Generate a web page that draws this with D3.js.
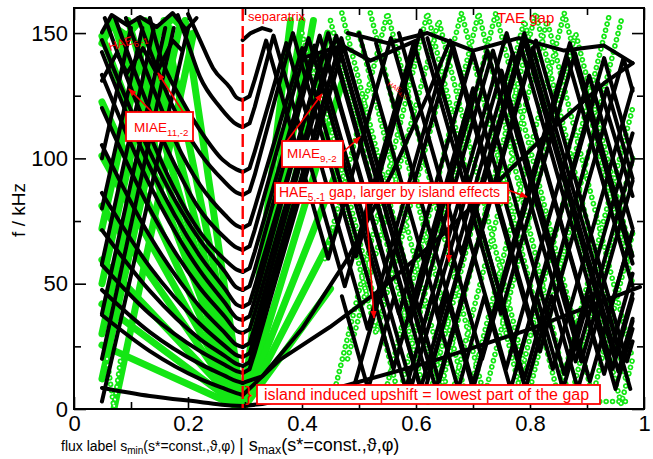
<!DOCTYPE html>
<html><head><meta charset="utf-8">
<script src="https://cdn.jsdelivr.net/npm/d3@7"></script>
<style>
html,body{margin:0;padding:0;background:#fff;}
svg{display:block;font-family:"Liberation Sans",Arial,Helvetica,sans-serif;}
</style></head><body>
<svg id="chart" width="653" height="459"></svg>
<script>
// ---------- axis ticks ----------
const xTicks = [0, 0.2, 0.4, 0.6, 0.8, 1];
const xTickLabels = ["0", "0.2", "0.4", "0.6", "0.8", "1"];
const xMinorTicks = [0.1, 0.3, 0.5, 0.7, 0.9];
const yTicks = [0, 50, 100, 150];
const yTickLabels = ["0", "50", "100", "150"];
const yMinorTicks = [25, 75, 125];
const separatrixS = 0.296;

// ---------- black continuum branches (s, f[kHz]) ----------
// inner side (s_min) branches running down into the separatrix
const vLeftBranches = [
  [[0.2,157.6],[0.221,147.2],[0.244,136],[0.274,128.1],[0.285,124.3],[0.296,123.3]],
  [[0.182,157.2],[0.198,147.2],[0.221,132.5],[0.256,120.5],[0.285,113.6],[0.296,112.5]],
  [[0.133,156],[0.151,141.2],[0.186,124.5],[0.221,111.3],[0.261,99.4],[0.285,95.6],[0.296,94.6]],
  [[0.112,156],[0.133,143.2],[0.168,123.3],[0.221,102.1],[0.261,91.4],[0.285,86.4],[0.296,85.4]],
  [[0.091,156],[0.133,131.3],[0.177,107.3],[0.221,89.4],[0.265,77.4],[0.285,73.2],[0.296,72.2]],
  [[0.072,156],[0.133,119.3],[0.177,97.4],[0.221,79.4],[0.265,68.2],[0.285,64.4],[0.296,63.4]],
  [[0.054,156],[0.133,109.3],[0.177,87.4],[0.221,70.6],[0.265,59.5],[0.285,55.7],[0.296,54.7]],
  [[0.049,147.2],[0.133,102.5],[0.221,67.4],[0.265,54.7],[0.285,48.5],[0.296,47.5]],
  [[0.049,142.4],[0.133,96.6],[0.221,61],[0.265,47.9],[0.285,41.7],[0.296,40.7]],
  [[0.049,133.3],[0.133,89.4],[0.221,55.1],[0.265,42.3],[0.285,36.4],[0.296,35.5]],
  [[0.049,120.1],[0.133,79.8],[0.221,48.3],[0.265,36.7],[0.285,31.2],[0.296,30.3]],
  [[0.049,105.3],[0.133,69],[0.221,40.7],[0.265,30.3],[0.285,25.6],[0.296,24.7]],
  [[0.049,86.2],[0.133,56.7],[0.221,33.9],[0.265,25.1],[0.285,21.5],[0.296,20.7]],
  [[0.049,71.4],[0.133,47.1],[0.221,27.9],[0.265,21.1],[0.285,18],[0.296,17.2]],
  [[0.049,57.5],[0.133,37.9],[0.221,23.1],[0.265,17.6],[0.285,15.1],[0.296,14.4]],
  [[0.049,47.5],[0.133,30.7],[0.221,18],[0.265,13.2],[0.285,11.1],[0.296,10.4]],
  [[0.049,37.5],[0.133,23.1],[0.221,12],[0.265,8],[0.285,6.3],[0.296,5.6]],
  [[0.049,8.4],[0.133,5.2],[0.221,2.8],[0.265,1.6],[0.285,1.3],[0.296,1.2]]
];
// outer side (s_max) branches leaving the separatrix
const vRightBranches = [
  [[0.296,123.3],[0.308,124.8],[0.317,131.3],[0.337,147],[0.446,60],[0.556,148],[0.716,20],[0.866,140],[0.966,60],[0.98,49]],
  [[0.296,112.5],[0.308,114],[0.317,120.5],[0.350,149],[0.475,49],[0.596,146],[0.758,16],[0.904,133],[0.98,72]],
  [[0.296,94.6],[0.308,96.1],[0.317,102.6],[0.3725,146],[0.515,32],[0.640,132],[0.790,12],[0.935,128],[0.98,92]],
  [[0.296,85.4],[0.308,86.9],[0.317,93.4],[0.384,150],[0.495,61],[0.608,151],[0.749,38],[0.879,142],[0.98,61]],
  [[0.296,72.2],[0.308,73.7],[0.317,80.2],[0.4005,144],[0.5605,16],[0.70,128],[0.84,16],[0.98,128]],
  [[0.296,63.4],[0.308,64.9],[0.317,71.4],[0.4115,148],[0.54,45],[0.665,145],[0.8175,23],[0.964,140],[0.98,127]],
  [[0.296,54.7],[0.308,56.2],[0.317,62.7],[0.422,145],[0.592,9],[0.75,135],[0.905,11],[0.98,71]],
  [[0.296,47.5],[0.308,49],[0.317,55.5],[0.431,149],[0.57,38],[0.70,142],[0.86,14],[0.98,110]],
  [[0.296,40.7],[0.308,42.2],[0.317,48.7],[0.44,143],[0.6125,5],[0.79,147],[0.955,15],[0.98,35]],
  [[0.296,35.5],[0.308,37],[0.317,43.5],[0.446,150],[0.59,35],[0.725,143],[0.88,19],[0.98,99]],
  [[0.296,30.3],[0.308,31.8],[0.317,38.3],[0.453,146],[0.62,12],[0.785,144],[0.945,16],[0.98,44]],
  [[0.296,24.7],[0.308,26.2],[0.317,32.7],[0.46,149],[0.609,30],[0.759,150],[0.919,22],[0.98,71]],
  [[0.296,20.7],[0.308,22.2],[0.317,28.7],[0.465,144],[0.635,8],[0.805,144],[0.96,20],[0.98,36]],
  [[0.296,17.2],[0.308,18.7],[0.317,25.2],[0.469,148],[0.605,39],[0.735,143],[0.89,19],[0.98,91]],
  [[0.296,14.4],[0.308,15.9],[0.317,22.4],[0.473,145],[0.6405,11],[0.8105,147],[0.97,19],[0.98,27]],
  [[0.296,10.4],[0.33,13],[0.40,32],[0.48,60],[0.56,95],[0.62,125],[0.66,147],[0.80,35],[0.92,130],[0.98,85]],
  [[0.296,5.6],[0.361,19.6],[0.449,32.7],[0.537,47.5],[0.642,68.6],[0.74,90],[0.84,112],[0.93,130],[0.98,138]],
  [[0.296,1.2],[0.33,2],[0.449,7.6],[0.625,18.8],[0.795,31.5],[0.993,48.7]]
];
// further outer branches crossing the TAE gap region
const outerBranches = [
  [[0.50,150],[0.64,38],[0.77,142],[0.93,14],[0.98,54]],
  [[0.53,146],[0.70,10],[0.87,146],[0.98,58]],
  [[0.57,150],[0.68,62],[0.79,150],[0.95,22],[0.98,46]],
  [[0.62,148],[0.78,20],[0.93,140],[0.98,100]]
];
// steep rising branches on the inner side
const risingLeft = [
  [[0.049,3],[0.2,152]],
  [[0.049,20],[0.175,152]],
  [[0.049,38],[0.16,152]],
  [[0.049,58],[0.14,152]],
  [[0.049,80],[0.12,152]],
  [[0.049,100],[0.10,152]]
];
// upper (TAE/HAE gap edge) branches
const topWaves = [
  [[0.049,150.2],[0.066,157.2],[0.093,153.2],[0.116,156.4],[0.145,152.4],[0.173,158],[0.197,151.2],[0.215,156]],
  [[0.049,131],[0.075,142],[0.093,134],[0.121,144],[0.145,134],[0.173,147],[0.19,143]],
  [[0.296,147.2],[0.31,150],[0.33,152],[0.345,151]],
  [[0.48,150],[0.55,146],[0.62,150],[0.7,143],[0.78,148],[0.86,143],[0.93,145],[0.98,138]],
  [[0.40,140],[0.47,145],[0.52,139],[0.6,147]]
];
// low-frequency branches near the bottom of the outer side
const lowZigzags = [
  [[0.47,45],[0.516,8],[0.562,45],[0.608,8],[0.654,45],[0.70,8],[0.746,45],[0.792,8],[0.838,45],[0.884,8],[0.93,45],[0.976,8]],
  [[0.49,8],[0.536,45],[0.582,8],[0.628,45],[0.674,8],[0.72,45],[0.766,8],[0.812,45],[0.858,8],[0.904,45],[0.95,8],[0.98,32]]
];

// ---------- green continuum (without island upshift) ----------
const greenFanLeft = [
  [[0.296,0],[0.049,25.5]],[[0.296,0],[0.049,41.9]],[[0.296,0],[0.049,59.5]],
  [[0.296,0],[0.049,81]],[[0.296,0],[0.049,101]],[[0.296,0],[0.049,122.5]],
  [[0.296,0],[0.049,148.8]],[[0.296,0],[0.068,155]],[[0.296,0],[0.095,155]],
  [[0.296,0],[0.125,155]],[[0.296,0],[0.158,155]],[[0.296,0],[0.195,155]]
];
const greenRisingLeft = [
  [[0.07,0],[0.21,150]],[[0.049,12],[0.185,152]],[[0.049,30],[0.168,152]],
  [[0.049,50],[0.15,152]],[[0.049,72],[0.128,152]]
];
const greenTopLeft = [
  [[0.049,146],[0.066,153],[0.093,149],[0.116,155],[0.145,149],[0.173,156],[0.2,150]]
];
const greenFanRight = [
  [[0.296,0],[0.38,155]],[[0.296,0],[0.40,155]],[[0.296,0],[0.42,155]],
  [[0.296,0],[0.445,150]],[[0.296,0],[0.47,130]],[[0.296,0],[0.47,100]],
  [[0.296,0],[0.46,72]],[[0.296,0],[0.45,48]]
];
const greenDotted = [
  [[0.058,20],[0.07,0.5],[0.082,20]],
  [[0.45,155],[0.62,2],[0.79,155],[0.96,2],[0.98,20]],
  [[0.47,158],[0.64,5],[0.81,158],[0.97,10]],
  [[0.50,150],[0.66,3],[0.83,155],[0.98,20]],
  [[0.42,140],[0.57,5],[0.74,158],[0.91,5],[0.98,70]],
  [[0.44,60],[0.55,158],[0.72,5],[0.88,150],[0.98,60]],
  [[0.46,10],[0.62,158],[0.78,10],[0.94,158]],
  [[0.40,150],[0.53,30],[0.68,158],[0.85,5],[0.98,120]],
  [[0.48,20],[0.64,155],[0.80,8],[0.96,155]],
  [[0.52,158],[0.69,3],[0.86,158],[0.98,50]],
  [[0.55,10],[0.71,158],[0.87,3],[0.98,100]],
  [[0.45,3],[0.97,3]]
];

// ---------- drawing ----------
const GREEN = "#14e614", RED = "#ff0000";
const svg = d3.select("#chart");
const x = d3.scaleLinear().domain([0, 1]).range([74, 644]);
const y = d3.scaleLinear().domain([0, 160]).range([409, 8]);
const straight = d3.line().x(d => x(d[0])).y(d => y(d[1]));
const smooth = d3.line().x(d => x(d[0])).y(d => y(d[1])).curve(d3.curveMonotoneX);

const defs = svg.append("defs");
defs.append("clipPath").attr("id", "plot-clip").append("rect")
  .attr("x", x(0)).attr("y", y(160)).attr("width", x(1) - x(0)).attr("height", y(0) - y(160));
defs.append("marker").attr("id", "arrow").attr("viewBox", "0 0 10 10")
  .attr("refX", 9).attr("refY", 5).attr("markerWidth", 8).attr("markerHeight", 8)
  .attr("markerUnits", "userSpaceOnUse").attr("orient", "auto")
  .append("path").attr("d", "M0,1 L10,5 L0,9 z").attr("fill", RED);

const plot = svg.append("g").attr("clip-path", "url(#plot-clip)");

function solidGreen(data) {
  plot.append("g").selectAll("path").data(data).join("path")
    .attr("d", straight).attr("fill", "none").attr("stroke", GREEN)
    .attr("stroke-width", 7).attr("stroke-linecap", "round");
}
solidGreen(greenFanLeft);
solidGreen(greenRisingLeft);
solidGreen(greenTopLeft);
solidGreen(greenFanRight);

// open circle markers along the green branches
const rings = plot.append("g");
rings.selectAll("path.o").data(greenDotted).join("path").attr("class", "o")
  .attr("d", straight).attr("fill", "none").attr("stroke", GREEN)
  .attr("stroke-width", 5.6).attr("stroke-linecap", "round").attr("stroke-dasharray", "0.01 6.4");
rings.selectAll("path.i").data(greenDotted).join("path").attr("class", "i")
  .attr("d", straight).attr("fill", "none").attr("stroke", "#fff")
  .attr("stroke-width", 2.2).attr("stroke-linecap", "round").attr("stroke-dasharray", "0.01 6.4");

function black(data, gen) {
  plot.append("g").selectAll("path").data(data).join("path")
    .attr("d", gen).attr("fill", "none").attr("stroke", "#000")
    .attr("stroke-width", 4).attr("stroke-linejoin", "round").attr("stroke-linecap", "round");
}
black(vLeftBranches, smooth);
black(vRightBranches, straight);
black(outerBranches, straight);
black(risingLeft, straight);
black(topWaves, straight);
black(lowZigzags, straight);

// separatrix
svg.append("line").attr("x1", x(separatrixS)).attr("x2", x(separatrixS))
  .attr("y1", y(160)).attr("y2", y(0))
  .attr("stroke", RED).attr("stroke-width", 2.4).attr("stroke-dasharray", "13,5");

// ---------- axes ----------
const axisFont = 22;
function styleAxis(g) {
  g.select(".domain").remove();
  g.selectAll("line").attr("stroke", "#000").attr("stroke-width", 1.6);
  g.selectAll("text").attr("font-size", axisFont).attr("fill", "#000")
    .attr("font-family", '"Liberation Sans", Arial, sans-serif');
}
svg.append("g").attr("transform", `translate(0,${y(0)})`)
  .call(d3.axisBottom(x).tickValues(xTicks).tickFormat((d, i) => xTickLabels[i])
    .tickSizeInner(-12).tickSizeOuter(0).tickPadding(6)).call(styleAxis);
svg.append("g").attr("transform", `translate(0,${y(0)})`)
  .call(d3.axisBottom(x).tickValues(xMinorTicks).tickFormat("").tickSizeInner(-7).tickSizeOuter(0)).call(styleAxis);
svg.append("g").attr("transform", `translate(0,${y(160)})`)
  .call(d3.axisTop(x).tickValues(xTicks).tickFormat("").tickSizeInner(-12).tickSizeOuter(0)).call(styleAxis);
svg.append("g").attr("transform", `translate(0,${y(160)})`)
  .call(d3.axisTop(x).tickValues(xMinorTicks).tickFormat("").tickSizeInner(-7).tickSizeOuter(0)).call(styleAxis);
svg.append("g").attr("transform", `translate(${x(0)},0)`)
  .call(d3.axisLeft(y).tickValues(yTicks).tickFormat((d, i) => yTickLabels[i])
    .tickSizeInner(-12).tickSizeOuter(0).tickPadding(6)).call(styleAxis);
svg.append("g").attr("transform", `translate(${x(0)},0)`)
  .call(d3.axisLeft(y).tickValues(yMinorTicks).tickFormat("").tickSizeInner(-7).tickSizeOuter(0)).call(styleAxis);
svg.append("g").attr("transform", `translate(${x(1)},0)`)
  .call(d3.axisRight(y).tickValues(yTicks).tickFormat("").tickSizeInner(-12).tickSizeOuter(0)).call(styleAxis);
svg.append("g").attr("transform", `translate(${x(1)},0)`)
  .call(d3.axisRight(y).tickValues(yMinorTicks).tickFormat("").tickSizeInner(-7).tickSizeOuter(0)).call(styleAxis);
svg.append("rect").attr("x", x(0)).attr("y", y(160)).attr("width", x(1) - x(0)).attr("height", y(0) - y(160))
  .attr("fill", "none").attr("stroke", "#000").attr("stroke-width", 2);

// axis titles
svg.append("text").attr("transform", "translate(25,210) rotate(-90)")
  .attr("text-anchor", "middle").attr("font-size", 19).text("f / kHz");
const xt = svg.append("text").attr("x", 61).attr("y", 451).attr("fill", "#000");
xt.append("tspan").attr("font-size", 14).text("flux label s");
xt.append("tspan").attr("font-size", 10).attr("dy", 3).text("min");
xt.append("tspan").attr("font-size", 14).attr("dy", -3).text("(s*=const.,ϑ,φ) ");
xt.append("tspan").attr("font-size", 18).text("| s");
xt.append("tspan").attr("font-size", 12.5).attr("dy", 3).text("max");
xt.append("tspan").attr("font-size", 18).attr("dy", -3).text("(s*=const.,ϑ,φ)");

// ---------- annotations ----------
const ann = svg.append("g").attr("fill", RED);
function arrow(x1, y1, x2, y2) {
  ann.append("line").attr("x1", x1).attr("y1", y1).attr("x2", x2).attr("y2", y2)
    .attr("stroke", RED).attr("stroke-width", 1.6).attr("marker-end", "url(#arrow)");
}
function box(x0, y0, x1, y1) {
  ann.append("rect").attr("x", x0).attr("y", y0).attr("width", x1 - x0).attr("height", y1 - y0)
    .attr("fill", "#fff").attr("stroke", RED).attr("stroke-width", 1.8);
}
function label(xp, yp, size, parts) {
  const t = ann.append("text").attr("x", xp).attr("y", yp).attr("font-size", size).attr("fill", RED);
  parts.forEach(p => {
    const s = t.append("tspan").text(p.t);
    if (p.sub) s.attr("font-size", size * 0.72).attr("dy", size * 0.32);
    if (p.back) s.attr("dy", -size * 0.32);
  });
  return t;
}

ann.append("text").attr("x", 248).attr("y", 21).attr("font-size", 13).text("separatrix");
ann.append("text").attr("x", 497).attr("y", 23).attr("font-size", 15).text("TAE gap");
label(0, 0, 12, [{t: "HAE"}, {t: "6,-1", sub: true}]).attr("transform", "translate(110,51) rotate(-17)");
label(0, 0, 7, [{t: "HAE"}, {t: "4,-1", sub: true}]).attr("transform", "translate(387,85) rotate(32)");

arrow(152, 112, 129, 89);
arrow(183, 112, 158, 73);
box(126, 112, 193, 141);
label(134, 132, 13.5, [{t: "MIAE"}, {t: "11,-2", sub: true}]);

arrow(287, 141, 322, 94);
arrow(342, 153, 360, 137);
box(282, 141, 343, 167);
label(287, 158, 13.5, [{t: "MIAE"}, {t: "9,-2", sub: true}]);

arrow(366, 203, 374, 318);
arrow(448, 203, 449, 262);
arrow(508, 190, 527, 197);
box(275, 183, 508, 203);
label(279, 197, 14, [{t: "HAE"}, {t: "5,-1", sub: true}, {t: " gap, larger by island effects", back: true}]);

ann.append("text").attr("x", 245).attr("y", 401).attr("font-size", 21).text("}");
box(257, 385, 600, 404);
ann.append("text").attr("x", 264).attr("y", 400).attr("font-size", 16).text("island induced upshift = lowest part of the gap");
</script></body></html>
